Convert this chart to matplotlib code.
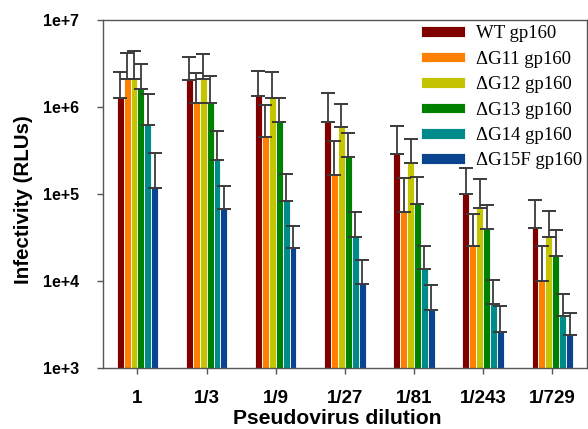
import numpy as np
import matplotlib
matplotlib.use('Agg')
import matplotlib.pyplot as plt
import matplotlib.ticker as plticker

# dilutions on the x axis
DILUTIONS = ['1', '1/3', '1/9', '1/27', '1/81', '1/243', '1/729']
SERIES = ['WT gp160', '\u0394G11 gp160', '\u0394G12 gp160', '\u0394G13 gp160',
          '\u0394G14 gp160', '\u0394G15F gp160']
COLORS = ['#800000', '#ff8000', '#c4c400', '#008000', '#008b8b', '#0a4490']

# mean infectivity (RLUs)
WT = [1.28e6, 2.03e6, 1.34e6, 6.7e5, 2.9e5, 1.0e5, 4.1e4]
G11 = [2.12e6, 1.12e6, 4.5e5, 1.67e5, 6.2e4, 2.5e4, 1.0e4]
G12 = [2.08e6, 2.08e6, 1.29e6, 5.9e5, 2.25e5, 7.0e4, 3.2e4]
G13 = [1.6e6, 1.12e6, 6.7e5, 2.7e5, 7.8e4, 4.0e4, 1.95e4]
G14 = [6.2e5, 2.5e5, 8.4e4, 3.2e4, 1.36e4, 5.4e3, 3.96e3]
G15F = [1.19e5, 6.7e4, 2.4e4, 9.2e3, 4.6e3, 2.6e3, 2.4e3]

# top of the error bars
WT_TOP = [2.55e6, 3.73e6, 2.62e6, 1.45e6, 6.1e5, 2.0e5, 8.5e4]
G11_TOP = [4.2e6, 2.5e6, 1.05e6, 4.06e5, 1.54e5, 5.9e4, 2.5e4]
G12_TOP = [4.4e6, 4.1e6, 2.55e6, 1.1e6, 4.3e5, 1.49e5, 6.4e4]
G13_TOP = [3.15e6, 2.3e6, 1.29e6, 5.1e5, 1.58e5, 7.5e4, 3.9e4]
G14_TOP = [1.4e6, 5.3e5, 1.7e5, 6.3e4, 2.5e4, 1.03e4, 7.2e3]
G15F_TOP = [3.0e5, 1.23e5, 4.26e4, 1.74e4, 9.1e3, 5.2e3, 4.3e3]

means = [WT, G11, G12, G13, G14, G15F]
tops = [WT_TOP, G11_TOP, G12_TOP, G13_TOP, G14_TOP, G15F_TOP]

fig = plt.figure(figsize=(5.88, 4.29), dpi=100)
ax = fig.add_axes([0.175, 0.142, 0.823, 0.811])

x = np.arange(len(DILUTIONS))
width = 0.1
for i, (name, m, t, c) in enumerate(zip(SERIES, means, tops, COLORS)):
    pos = x + (i - 2.5) * width
    m = np.array(m)
    t = np.array(t)
    ax.bar(pos, m, width, color=c, edgecolor='white', linewidth=0.6,
           label=name, zorder=2)
    ax.errorbar(pos, m, yerr=[np.zeros_like(m), t - m], fmt='none', ecolor='#3a3a3a',
                elinewidth=1.3, capsize=5, capthick=1.4, zorder=3)

ax.set_yscale('log')
ax.set_ylim(1e3, 1e7)
ax.set_xlim(-0.5, 6.5)
ax.yaxis.set_major_locator(plticker.FixedLocator([1e3, 1e4, 1e5, 1e6, 1e7]))
ax.yaxis.set_minor_locator(plticker.NullLocator())
ax.yaxis.set_major_formatter(plticker.FuncFormatter(lambda v, p: '1e+%d' % round(np.log10(v))))
ax.set_xticks(x)
ax.set_xticklabels(DILUTIONS)

for sp in ax.spines.values():
    sp.set_color('#555555')
    sp.set_linewidth(1.0)
ax.tick_params(axis='both', direction='out', length=4, color='#555555', width=1)
ax.tick_params(axis='x', pad=11.5)
ax.tick_params(axis='y', pad=13)
for lab in ax.get_xticklabels():
    lab.set_fontfamily('Liberation Sans')
    lab.set_fontweight('bold')
    lab.set_fontsize(13.5)
for lab in ax.get_yticklabels():
    lab.set_fontfamily('Liberation Sans')
    lab.set_fontweight('bold')
    lab.set_fontsize(11.5)

ax.set_xlabel('Pseudovirus dilution', fontfamily='Liberation Sans', fontweight='bold',
              fontsize=15.2)
ax.set_ylabel('Infectivity (RLUs)', fontfamily='Liberation Sans', fontweight='bold',
              fontsize=14.8)
ax.xaxis.set_label_coords(0.4845, -0.145, transform=ax.transAxes)
ax.yaxis.set_label_coords(-0.165, 0.483, transform=ax.transAxes)
ax.xaxis.label.set_va('center')
ax.yaxis.label.set_ha('center')
ax.yaxis.label.set_va('center')

leg = ax.legend(loc='upper left', bbox_to_anchor=(0.631, 1.023), frameon=False,
                prop={'family': 'Liberation Serif', 'size': 13.5},
                handlelength=2.3, handleheight=0.5, handletextpad=0.6,
                labelspacing=0.45, borderaxespad=0.3)

fig.savefig('out.png', dpi=100)
